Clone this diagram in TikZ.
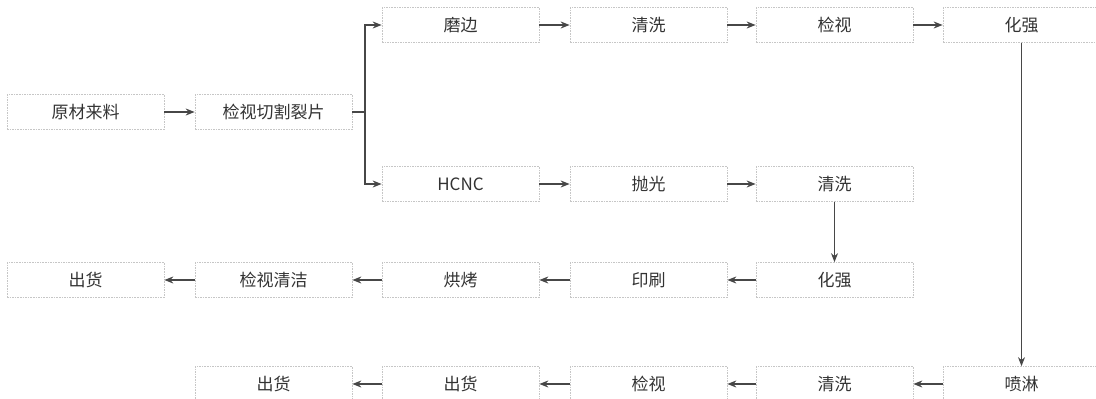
\documentclass[tikz,border=0pt]{standalone}
\usepackage{fontspec}
\setmainfont{Noto Sans CJK SC}
\usetikzlibrary{arrows.meta}
\tikzset{
  box/.style={draw=gray!45, dash pattern=on 1.6pt off 1pt, line width=0.7pt,
    minimum width=157pt, minimum height=35pt, inner sep=0pt,
    font=\fontsize{17pt}{19pt}\selectfont, text=black!80},
  arr/.style={draw=black!72, line width=1.3pt, -{Stealth[length=9pt,width=7pt]}},
  varr/.style={draw=black!72, line width=1pt, -{Stealth[length=9pt,width=7pt]}},
  ln/.style={draw=black!72, line width=1.3pt}
}
\begin{document}
\begin{tikzpicture}[x=1pt,y=-1pt]
\clip (0,0) rectangle (1096,399);
\fill[white] (0,0) rectangle (1096,399);
% row 0
\node[box] (mb) at (460.5,25) {磨边};
\node[box] (qx1) at (648.5,25) {清洗};
\node[box] (js1) at (834.5,25) {检视};
\node[box] (hq1) at (1021.5,25) {化强};
% row 1
\node[box] (ycl) at (85.5,112) {原材来料};
\node[box] (jsq) at (273.5,112) {检视切割裂片};
% row 2
\node[box] (hcnc) at (460.5,184) {HCNC};
\node[box] (pg) at (648.5,184) {抛光};
\node[box] (qx2) at (834.5,184) {清洗};
% row 3
\node[box] (ch1) at (85.5,280) {出货};
\node[box] (jsqj) at (273.5,280) {检视清洁};
\node[box] (hk) at (460.5,280) {烘烤};
\node[box] (ys) at (648.5,280) {印刷};
\node[box] (hq2) at (834.5,280) {化强};
% row 4
\node[box] (ch2) at (273.5,384) {出货};
\node[box] (ch3) at (460.5,384) {出货};
\node[box] (js2) at (648.5,384) {检视};
\node[box] (qx3) at (834.5,384) {清洗};
\node[box] (pl) at (1021.5,384) {喷淋};
% connectors
\coordinate (trunk) at (365,112);
\draw[arr] (ycl) -- (jsq);
\draw[ln] (jsq.east) -- (trunk);
\draw[arr] (trunk) |- (mb.west);
\draw[arr] (trunk) |- (hcnc.west);
\draw[arr] (mb) -- (qx1);
\draw[arr] (qx1) -- (js1);
\draw[arr] (js1) -- (hq1);
\draw[arr] (hcnc) -- (pg);
\draw[arr] (pg) -- (qx2);
\draw[varr] (hq1) -- (pl);
\draw[varr] (qx2) -- (hq2);
\draw[arr] (hq2) -- (ys);
\draw[arr] (ys) -- (hk);
\draw[arr] (hk) -- (jsqj);
\draw[arr] (jsqj) -- (ch1);
\draw[arr] (pl) -- (qx3);
\draw[arr] (qx3) -- (js2);
\draw[arr] (js2) -- (ch3);
\draw[arr] (ch3) -- (ch2);
\end{tikzpicture}
\end{document}
